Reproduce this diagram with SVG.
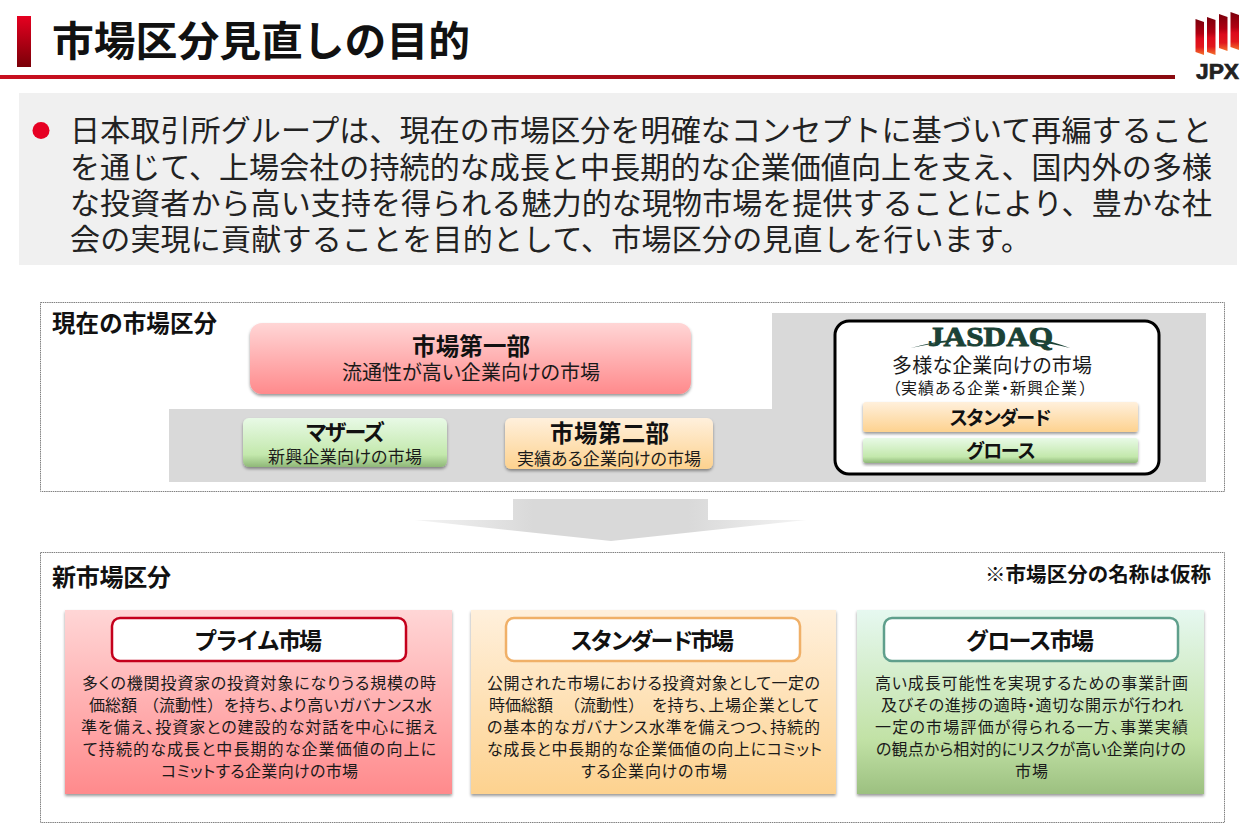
<svg xmlns="http://www.w3.org/2000/svg" width="1255" height="834" viewBox="0 0 1255 834">
<style>
text{font-family:"Noto Sans CJK JP","Noto Sans",sans-serif;fill:#1a1a1a}
.b{font-weight:700;fill:#111}
.lead{font-size:30px;fill:#222}
.body{font-size:16px;font-feature-settings:"palt"}
.sub{font-feature-settings:"palt"}
.fw{font-feature-settings:normal}
.frame{fill:#fff;stroke:#808080;stroke-width:1;stroke-dasharray:1.5 0.7}
.hdr{fill:#fff;stroke-width:2.5}
</style>
<defs>
<linearGradient id="gBar" x1="0" y1="0" x2="0" y2="1"><stop offset="0" stop-color="#e60020"/><stop offset="1" stop-color="#7a0008"/></linearGradient>
<linearGradient id="gLine" x1="0" y1="0" x2="1" y2="0"><stop offset="0" stop-color="#c8101f"/><stop offset="1" stop-color="#8a0a10"/></linearGradient>
<linearGradient id="gRed" x1="0" y1="0" x2="0" y2="1"><stop offset="0" stop-color="#ffd6d6"/><stop offset="1" stop-color="#ff8a8c"/></linearGradient>
<linearGradient id="gOrange" x1="0" y1="0" x2="0" y2="1"><stop offset="0" stop-color="#fff0dc"/><stop offset="1" stop-color="#fdd28f"/></linearGradient>
<linearGradient id="gGreen" x1="0" y1="0" x2="0" y2="1"><stop offset="0" stop-color="#e8fae6"/><stop offset="0.75" stop-color="#c3e8ac"/><stop offset="1" stop-color="#8fb878"/></linearGradient>
<linearGradient id="gTall" x1="0" y1="0" x2="0" y2="1"><stop offset="0" stop-color="#e6f8f0"/><stop offset="0.7" stop-color="#c2e2a6"/><stop offset="1" stop-color="#9cc080"/></linearGradient>
<linearGradient id="gArrow" x1="0" y1="0" x2="1" y2="0"><stop offset="0" stop-color="#f4f4f4"/><stop offset="0.3" stop-color="#d9d9d9"/><stop offset="0.7" stop-color="#d9d9d9"/><stop offset="1" stop-color="#f4f4f4"/></linearGradient>
<linearGradient id="gLogo" x1="0" y1="0" x2="0" y2="1"><stop offset="0" stop-color="#7a000c"/><stop offset="0.4" stop-color="#b00012"/><stop offset="0.55" stop-color="#dc0a1c"/><stop offset="0.78" stop-color="#e2181c"/><stop offset="1" stop-color="#f4732c"/></linearGradient>
<filter id="sh" x="-5%" y="-10%" width="110%" height="125%"><feDropShadow dx="0" dy="2" stdDeviation="1.5" flood-color="#000" flood-opacity="0.4"/></filter>
</defs>

<g id="header">
<rect x="17" y="16" width="14" height="51" fill="url(#gBar)"/>
<text class="b" x="52" y="56" font-size="41" textLength="418" lengthAdjust="spacingAndGlyphs">市場区分見直しの目的</text>
<rect x="0" y="75" width="1175" height="4" fill="url(#gLine)"/>
</g>
<g id="logo">
<polygon points="1195.5,19 1204,22 1204,55 1195.5,52" fill="url(#gLogo)"/>
<polygon points="1207,17 1215.5,20 1215.5,55 1207,52" fill="url(#gLogo)"/>
<polygon points="1219,14 1227.5,17 1227.5,51 1219,48" fill="url(#gLogo)"/>
<polygon points="1230.5,12 1239,15 1239,50 1230.5,47" fill="url(#gLogo)"/>
<text x="1196" y="78.5" font-size="21.5" font-weight="700" stroke="#222" stroke-width="0.7" style="font-family:'Liberation Sans',sans-serif;fill:#222" textLength="43" lengthAdjust="spacingAndGlyphs">JPX</text>
</g>

<g id="purpose">
<rect x="19" y="93" width="1218" height="172" fill="#f0f0f0"/>
<circle cx="41" cy="130.5" r="8.5" fill="#e60023"/>
<text class="lead" x="70" y="141" textLength="1142">日本取引所グループは、現在の市場区分を明確なコンセプトに基づいて再編すること</text>
<text class="lead" x="70" y="178" textLength="1142">を通じて、上場会社の持続的な成長と中長期的な企業価値向上を支え、国内外の多様</text>
<text class="lead" x="70" y="214" textLength="1142">な投資者から高い支持を得られる魅力的な現物市場を提供することにより、豊かな社</text>
<text class="lead" x="70" y="250" textLength="961">会の実現に貢献することを目的として、市場区分の見直しを行います。</text>
</g>

<g id="current">
<rect class="frame" x="40.5" y="302.5" width="1184" height="189"/>
<polygon points="772,313 1206,313 1206,482 169,482 169,409 772,409" fill="#d9d9d9"/>
<text class="b" x="52" y="332" font-size="23.5" textLength="165">現在の市場区分</text>
</g>

<g id="ichibu">
<rect x="250" y="323" width="441" height="71" rx="12" fill="url(#gRed)" filter="url(#sh)"/>
<text class="b" x="412" y="355" font-size="23.5" textLength="118">市場第一部</text>
<text class="sub" x="342" y="380" font-size="20" textLength="258">流通性が高い企業向けの市場</text>
</g>
<g id="mothers">
<rect x="243" y="418" width="204" height="49" rx="6" fill="url(#gGreen)" filter="url(#sh)"/>
<text class="b" x="305" y="440" font-size="22" textLength="80">マザーズ</text>
<text class="sub" x="268" y="463" font-size="17" textLength="154">新興企業向けの市場</text>
</g>
<g id="nibu">
<rect x="505" y="418" width="208" height="51" rx="6" fill="url(#gOrange)" filter="url(#sh)"/>
<text class="b" x="550" y="442" font-size="23.5" textLength="119">市場第二部</text>
<text class="sub" x="517" y="465" font-size="17" textLength="184">実績ある企業向けの市場</text>
</g>
<g id="jasdaq">
<rect x="835" y="321" width="324" height="153" rx="14" fill="#fff" stroke="#000" stroke-width="3"/>
<path d="M911,348C925,344 938,341 952,340L950,342C936,343 924,345 911,348Z" fill="#1a4236"/>
<path d="M1070,348C1058,343 1046,340 1034,339L1036,342C1048,343 1058,345 1070,348Z" fill="#1a4236"/>
<text x="928" y="345.5" font-size="27" font-weight="700" stroke="#1a4236" stroke-width="0.9" style="font-family:'Liberation Serif',serif;fill:#1a4236" textLength="125" lengthAdjust="spacingAndGlyphs">JASDAQ</text>
<text class="sub" x="892" y="373" font-size="20" textLength="200">多様な企業向けの市場</text>
<text class="sub" y="394" font-size="16"><tspan class="fw" x="885">&#xFF08;</tspan><tspan x="901" textLength="176">実績ある企業・新興企業</tspan><tspan class="fw" x="1079">&#xFF09;</tspan></text>
<rect x="863" y="402" width="275" height="30" rx="3" fill="url(#gOrange)" filter="url(#sh)"/>
<text class="b" x="949" y="425" font-size="19" textLength="103">スタンダード</text>
<rect x="863" y="438" width="275" height="25" rx="3" fill="url(#gGreen)" filter="url(#sh)"/>
<text class="b" x="966" y="458" font-size="19" textLength="70">グロース</text>
</g>

<g id="connectors">
<polygon points="513,499 708,499 708,520 806,520 611,541 415,520 513,520" fill="url(#gArrow)"/>
</g>

<g id="new">
<rect class="frame" x="40.5" y="552.5" width="1184" height="270"/>
<text class="b" x="52" y="586" font-size="24" textLength="119">新市場区分</text>
<text class="b" x="985" y="582" font-size="20.5" textLength="226">※市場区分の名称は仮称</text>
</g>

<g id="prime">
<rect x="65" y="610" width="387" height="184" fill="url(#gRed)" filter="url(#sh)"/>
<rect class="hdr" x="112" y="618" width="294" height="43" rx="8" stroke="#c4001c"/>
<text class="b" x="194" y="649" font-size="23" textLength="128">プライム市場</text>
<text class="body" x="82" y="689" textLength="354">多くの機関投資家の投資対象になりうる規模の時</text>
<text class="body" y="711"><tspan x="89">価総額</tspan><tspan class="fw" x="143">&#xFF08;流動性&#xFF09;</tspan><tspan x="224" textLength="208">を持ち、より高いガバナンス水</tspan></text>
<text class="body" x="81" y="733" textLength="356">準を備え、投資家との建設的な対話を中心に据え</text>
<text class="body" x="83" y="755" textLength="353">て持続的な成長と中長期的な企業価値の向上に</text>
<text class="body" x="161" y="777" textLength="197">コミットする企業向けの市場</text>
</g>
<g id="standard">
<rect x="471" y="610" width="365" height="184" fill="url(#gOrange)" filter="url(#sh)"/>
<rect class="hdr" x="506" y="618" width="294" height="43" rx="8" stroke="#f0b068"/>
<text class="b" x="570" y="649" font-size="23" textLength="164">スタンダード市場</text>
<text class="body" x="487" y="689" textLength="333">公開された市場における投資対象として一定の</text>
<text class="body" y="711"><tspan x="489">時価総額</tspan><tspan class="fw" x="564">&#xFF08;流動性&#xFF09;</tspan><tspan x="652" textLength="167">を持ち、上場企業として</tspan></text>
<text class="body" x="487" y="733" textLength="333">の基本的なガバナンス水準を備えつつ、持続的</text>
<text class="body" x="487" y="755" textLength="335">な成長と中長期的な企業価値の向上にコミット</text>
<text class="body" x="581" y="777" textLength="146">する企業向けの市場</text>
</g>
<g id="growth">
<rect x="857" y="610" width="347" height="184" fill="url(#gTall)" filter="url(#sh)"/>
<rect class="hdr" x="884" y="618" width="294" height="43" rx="8" stroke="#5f9f8c"/>
<text class="b" x="966" y="649" font-size="23" textLength="128">グロース市場</text>
<text class="body" x="875" y="689" textLength="313">高い成長可能性を実現するための事業計画</text>
<text class="body" x="881" y="711" textLength="302">及びその進捗の適時・適切な開示が行われ</text>
<text class="body" x="875" y="733" textLength="313">一定の市場評価が得られる一方、事業実績</text>
<text class="body" x="876" y="755" textLength="310">の観点から相対的にリスクが高い企業向けの</text>
<text class="body" x="1015" y="777" textLength="33">市場</text>
</g>
</svg>
